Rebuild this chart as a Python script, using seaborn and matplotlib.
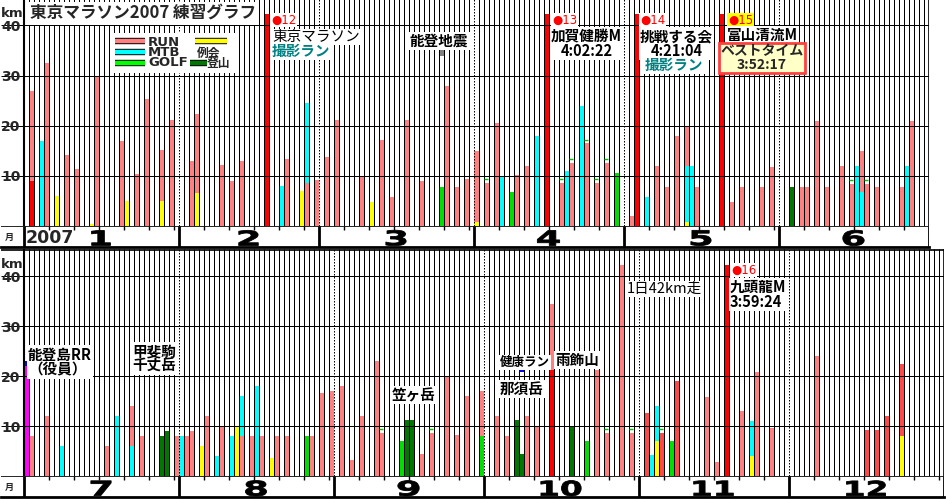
import numpy as np
import pandas as pd
import seaborn as sns
import matplotlib.pyplot as plt
from matplotlib.lines import Line2D
from matplotlib.textpath import TextPath
from matplotlib.patches import PathPatch, Rectangle
from matplotlib.font_manager import FontProperties
from matplotlib.transforms import Affine2D

sns.set_style("white")
plt.rcParams['font.family'] = ['Noto Sans CJK JP', 'DejaVu Sans']

# ---------------- data ----------------
# 1-6月: one entry per bar segment, stacked in the order listed
h1_date = ['1/2', '1/2', '1/4', '1/5', '1/7', '1/9', '1/11', '1/14', '1/15', '1/20', '1/21', '1/23', '1/25', '1/28', '1/28', '1/30',
           '2/3', '2/4', '2/4', '2/9', '2/11', '2/13', '2/18', '2/21', '2/22', '2/25', '2/26', '2/26', '2/28',
           '3/2', '3/4', '3/9', '3/11', '3/13', '3/15', '3/18', '3/21', '3/25', '3/26', '3/28', '3/30',
           '4/1', '4/1', '4/3', '4/5', '4/6', '4/8', '4/9', '4/11', '4/13', '4/15', '4/18', '4/19', '4/20', '4/22', '4/23', '4/25', '4/27', '4/29',
           '5/2', '5/3', '5/5', '5/7', '5/9', '5/11', '5/13', '5/13', '5/13', '5/14', '5/15', '5/20', '5/22', '5/24', '5/28', '5/30',
           '6/3', '6/5', '6/6', '6/8', '6/10', '6/13', '6/15', '6/16', '6/17', '6/17', '6/18', '6/20', '6/25', '6/26', '6/27']
h1_kind = ['race', 'run', 'mtb', 'run', 'reikai', 'run', 'run', 'reikai', 'run', 'run', 'reikai', 'run', 'run', 'reikai', 'run', 'run',
           'run', 'reikai', 'run', 'run', 'run', 'run', 'race', 'mtb', 'run', 'reikai', 'run', 'mtb', 'run',
           'run', 'run', 'run', 'reikai', 'run', 'run', 'run', 'run', 'golf', 'run', 'run', 'run',
           'reikai', 'run', 'run', 'run', 'mtb', 'golf', 'run', 'run', 'mtb', 'race', 'run', 'mtb', 'run', 'mtb', 'run', 'run', 'run', 'golf',
           'run', 'race', 'mtb', 'run', 'run', 'run', 'reikai', 'mtb', 'run', 'mtb', 'run', 'race', 'run', 'run', 'run', 'run',
           'climb', 'run', 'run', 'run', 'run', 'run', 'run', 'mtb', 'mtb', 'run', 'run', 'run', 'run', 'mtb', 'run']
h1_km = [9, 18, 17, 32.5, 6, 14.1, 11.3, 0.5, 30, 17, 5, 10.4, 25.4, 5, 10.2, 21.2,
         13, 6.7, 15.6, 12.1, 9, 13, 42.2, 8, 13.4, 7, 8.6, 15.9, 9.2,
         13.8, 21.1, 10, 4.9, 17.1, 5.9, 21.1, 9.1, 7.9, 28, 7.9, 9.5,
         0.9, 14.1, 8.7, 20.6, 9.9, 6.9, 10.2, 12, 18, 42.2, 8.7, 11, 12.6, 24, 16.5, 8.7, 12.6, 10.5,
         2, 42.2, 5.9, 12, 7.9, 18, 0.9, 11.1, 8, 12, 7.9, 42.2, 4.9, 7.9, 7.9, 11.7,
         7.9, 7.9, 7.9, 21, 7.9, 12, 8.5, 12, 6.9, 8.1, 8.5, 7.9, 7.9, 12, 21]

# 7-12月
h2_date = ['7/1', '7/2', '7/5', '7/8', '7/17', '7/19', '7/22', '7/22', '7/24', '7/28', '7/29', '7/31',
           '8/1', '8/2', '8/3', '8/5', '8/6', '8/8', '8/9', '8/11', '8/12', '8/13', '8/13', '8/15', '8/16', '8/17', '8/19', '8/20', '8/22', '8/26', '8/27', '8/29', '8/31',
           '9/2', '9/4', '9/6', '9/9', '9/10', '9/14', '9/15', '9/16', '9/18', '9/20', '9/23', '9/25', '9/27', '9/30', '9/30',
           '10/3', '10/5', '10/7', '10/8', '10/9', '10/11', '10/14', '10/14', '10/18', '10/21', '10/23', '10/25', '10/28', '10/30',
           '11/2', '11/3', '11/4', '11/4', '11/5', '11/7', '11/8', '11/14', '11/16', '11/18', '11/21', '11/23', '11/23', '11/24', '11/27',
           '12/6', '12/16', '12/18', '12/20', '12/23', '12/23']
h2_kind = ['staff', 'run', 'run', 'mtb', 'run', 'mtb', 'mtb', 'run', 'run', 'climb', 'climb', 'run',
           'mtb', 'run', 'run', 'reikai', 'run', 'mtb', 'run', 'mtb', 'reikai', 'run', 'mtb', 'run', 'mtb', 'run', 'reikai', 'run', 'run', 'golf', 'run', 'run', 'run',
           'run', 'run', 'run', 'run', 'run', 'golf', 'climb', 'climb', 'run', 'run', 'run', 'run', 'run', 'golf', 'run',
           'run', 'run', 'climb', 'climb', 'run', 'run', 'race', 'run', 'climb', 'golf', 'run', 'run', 'run', 'run',
           'hard', 'mtb', 'reikai', 'mtb', 'hard', 'golf', 'hard', 'run', 'run', 'race', 'run', 'reikai', 'mtb', 'run', 'run',
           'run', 'hard', 'hard', 'hard', 'reikai', 'hard']
h2_km = [22, 8, 12, 6, 6, 12, 6, 8.1, 8, 8, 9, 8,
         8, 8, 9, 6, 12, 4.1, 10, 8, 10, 8, 8.1, 8, 18.1, 8, 3.7, 8, 8, 8, 8, 16.6, 17.1,
         18.1, 3.3, 12.1, 23.1, 8.7, 7.1, 11.3, 11.3, 4.5, 8.7, 20, 8.3, 16.1, 8, 9.1,
         12.1, 8, 11.3, 4.5, 12.1, 10, 21.3, 13.2, 10, 7.1, 21.3, 8.7, 42.3, 8.7,
         12.7, 4.2, 7.1, 7, 8.7, 7.1, 19, 15.9, 2.9, 42.3, 13.1, 4, 7.1, 20.8, 9.6,
         24.1, 9.3, 9.3, 12.1, 8.1, 14.4]

# floating markers (not stacked)
mark_date = ['3/25', '7/1', '10/8']
mark_kind = ['quake', 'blue', 'blue']
mark_lo = [33.8, 22.0, 20.9]
mark_hi = [35.2, 23.0, 21.4]

# small green dashes over some bars
dash_date = ['4/3', '4/18', '4/20', '4/23', '4/25', '4/27', '6/15', '6/18',
             '9/10', '9/20', '10/25', '10/30', '11/5']

month_len = [31, 28, 31, 30, 31, 30, 31, 31, 30, 31, 30, 31]

colors = {'run': '#ff8080', 'hard': '#ff4848', 'race': '#ff0000', 'mtb': '#00ffff',
          'reikai': '#ffff00', 'golf': '#00e000', 'climb': '#007800', 'staff': '#ff00ff',
          'quake': '#808080', 'blue': '#0000ff'}

W, H = 948, 500
fig = plt.figure(figsize=(W / 100, H / 100), dpi=100)
fig.patch.set_facecolor('white')
num_font = FontProperties(family='DejaVu Sans', weight='bold')
LW = 0.72  # 1 px


def px_axes(x0, y0, x1, y1):
    # +0.5 px so that the day lines fall on pixel centres
    return fig.add_axes([(x0 + 0.5) / W, 1 - (y1 - 0.5) / H, (x1 - x0) / W, (y1 - y0) / H])


def day_index(dates, first_month):
    ts = pd.to_datetime(['2007/' + d for d in dates])
    off = sum(month_len[:first_month - 1])
    return np.array(ts.dayofyear) - off


def wide_number(ax, xc, yc, s, stretch=1.8, size=20.5):
    # month numbers are drawn in a wide, heavy face: stretch the glyphs sideways
    tp = TextPath((0, 0), s, size=size, prop=num_font)
    bb = tp.get_extents()
    X, Y = ax.transData.transform((xc, yc))
    tr = (Affine2D().translate(-bb.x0 - bb.width / 2, -bb.y0 - bb.height / 2)
          .scale(stretch, 1).translate(X, Y))
    ax.add_patch(PathPatch(tp, transform=tr, facecolor='black', edgecolor='black', lw=0.6))


def draw_half(dates, kinds, kms, months, box, strip, ymax, show_year):
    N = sum(month_len[m - 1] for m in months)
    ax = px_axes(*box)
    ax.set_xlim(0.5 - 23 / 5, N + 0.5)
    ax.set_ylim(0, ymax)
    ax.axis('off')

    df = pd.DataFrame({'x': day_index(dates, months[0]), 'kind': kinds, 'km': kms})
    df['bottom'] = df.groupby('x')['km'].cumsum() - df['km']
    ax.bar(df['x'], df['km'], bottom=df['bottom'], width=1.0,
           color=df['kind'].map(colors), linewidth=0, zorder=2)

    # markers
    mk = pd.DataFrame({'date': mark_date, 'kind': mark_kind, 'lo': mark_lo, 'hi': mark_hi})
    mk = mk[[int(d.split('/')[0]) in months for d in mk['date']]]
    if len(mk):
        ax.bar(day_index(list(mk['date']), months[0]), mk['hi'] - mk['lo'], bottom=mk['lo'],
               width=1.0, color=mk['kind'].map(colors), linewidth=0, zorder=2)

    # dashes
    dd = [d for d in dash_date if int(d.split('/')[0]) in months]
    if dd:
        tot = df.groupby('x')['km'].sum()
        xs = day_index(dd, months[0])
        ax.scatter(xs, tot.loc[xs].values + 0.7, marker='_', s=5, color='#00c000',
                   linewidths=1, zorder=5)

    # grid
    edges = np.cumsum([0] + [month_len[m - 1] for m in months]) + 0.5
    inner = [b for b in np.arange(1.5, N + 0.5) if b not in edges]
    ax.vlines(inner, 0, ymax, color='black', lw=LW, zorder=3)
    ax.vlines(edges[1:-1], 0, ymax, color='black', lw=LW, linestyles=(0, (1.5, 1.5)), zorder=3)
    ax.vlines([0.5], 0, ymax, color='black', lw=1.5, zorder=4)
    ax.vlines([N + 0.5], 0, ymax, color='black', lw=1.2, zorder=4)
    ax.hlines([10, 20, 30, 40], 0.5 - 23 / 5, N + 0.5, color='black', lw=LW, zorder=4)
    for v in [10, 20, 30, 40]:
        ax.text(0.5 - 22.5 / 5, v - 0.3, str(v), ha='left', va='center', fontsize=10,
                fontweight='bold', family='DejaVu Sans', zorder=6)
    ax.text(0.5 - 22.5 / 5, 42.4, 'km', ha='left', va='center', fontsize=9.5,
            fontweight='bold', family='DejaVu Sans', zorder=6)

    # month strip
    sx = px_axes(*strip)
    sx.set_xlim(ax.get_xlim())
    sx.set_ylim(0, 1)
    sx.set_xticks([])
    sx.set_yticks([])
    for s in ['left', 'right', 'top']:
        sx.spines[s].set_visible(False)
    sx.spines['bottom'].set_linewidth(2)
    sx.spines['bottom'].set_color('black')
    sx.axhline(1, color='black', lw=1.2)
    sx.vlines(edges, 0, 1, color='black', lw=2)
    for i, m in enumerate(months):
        s = edges[i] - 0.5
        for k in range(5, month_len[m - 1], 5):
            sx.vlines(s + k + 0.5, 0.82, 1, color='black', lw=1)
        wide_number(sx, s + month_len[m - 1] / 2 + 0.5, 0.42, str(m),
                    stretch=1.8 if m < 10 else 1.6)
    sx.text(0.5 - 19 / 5, 0.45, '月', ha='left', va='center', fontsize=6.5, fontweight='bold')
    if show_year:
        sx.text(0.9, 0.42, '2007', ha='left', va='center', fontsize=12.5,
                fontweight='bold', family='DejaVu Sans')
    return ax


ax1 = draw_half(h1_date, h1_kind, h1_km, [1, 2, 3, 4, 5, 6],
                (0, 0, 928, 226.7), (0, 226.7, 928, 247), 45.15, True)
ax2 = draw_half(h2_date, h2_kind, h2_km, [7, 8, 9, 10, 11, 12],
                (0, 249.5, 943, 476.7), (0, 476.7, 943, 497.5), 45.44, False)
ax2.hlines([45.3], 0.5 - 23 / 5, 184.5, color='black', lw=1.2, zorder=4)


# ---- legend, laid out by hand like the original ----
def fx(x):
    return x / W


def fy(y):
    return 1 - y / H


fig.add_artist(Rectangle((fx(113), fy(73)), 123 / W, 40 / H, transform=fig.transFigure,
                         facecolor='white', edgecolor='none', zorder=8))


def swatch(x0, x1, y, c):
    fig.add_artist(Line2D([fx(x0), fx(x1)], [fy(y), fy(y)], transform=fig.transFigure,
                          color='black', lw=4.6, solid_capstyle='butt', zorder=9))
    fig.add_artist(Line2D([fx(x0), fx(x1)], [fy(y), fy(y)], transform=fig.transFigure,
                          color=c, lw=3.2, solid_capstyle='butt', zorder=9))


for c, y in [(colors['run'], 41), (colors['mtb'], 52), ('#00ff00', 63)]:
    swatch(115, 145, y, c)
fig.text(fx(148), fy(52.5), 'RUN\nMTB\nGOLF', ha='left', va='center', zorder=9,
         family='DejaVu Sans', fontweight='bold', fontsize=9.5, linespacing=0.72)
swatch(195, 227, 41, colors['reikai'])
fig.text(fx(197), fy(53), '例会', ha='left', va='center', zorder=9, fontweight='bold', fontsize=8.5)
swatch(190, 207, 63, colors['climb'])
fig.text(fx(207), fy(64), '登山', ha='left', va='center', zorder=9, fontweight='bold', fontsize=8.5)


# texts
def note(x, y, s, color='black', size=10.5, bg='white', weight='bold', **kw):
    fig.text(x / W, 1 - y / H, s, color=color, fontsize=size, ha='left', va='center',
             fontweight=weight, linespacing=0.9,
             bbox=dict(boxstyle='square,pad=0.08', fc=bg, ec='none'), zorder=10, **kw)


fig.text(30 / W, 1 - 13 / H, '東京マラソン2007 練習グラフ', fontsize=12, fontweight='bold',
         ha='left', va='center', bbox=dict(boxstyle='square,pad=0.15', fc='white', ec='none'),
         zorder=10)

teal = '#008080'
dot = dict(family=['DejaVu Sans'])
note(271, 20, '●12', color='red', size=8.5, weight='normal', **dot)
note(272, 37, '東京マラソン', weight='normal')
note(272, 51, '撮影ラン', color=teal)
note(410, 41, '能登地震')
note(552, 20, '●13', color='red', size=8.5, weight='normal', **dot)
note(551, 43.5, '加賀健勝M\n4:02:22', multialignment='center')
note(640, 20, '●14', color='red', size=8.5, weight='normal', **dot)
note(640, 43.5, '挑戦する会\n4:21:04', multialignment='center')
note(645, 65, '撮影ラン', color=teal)
note(728, 20, '●15', color='red', size=8.5, bg='#ffff00', weight='normal', **dot)
note(727, 35, '富山清流M')
fig.text(762 / W, 1 - 58 / H, 'ベストタイム\n3:52:17', fontsize=10, ha='center', va='center',
         linespacing=0.95, zorder=10, fontweight='bold',
         bbox=dict(boxstyle='square,pad=0.12', fc='#ffffc8', ec='#ff4040', lw=2))

note(28, 362, '能登島RR\n（役員）')
note(132, 358.5, '甲斐駒\n千丈岳')
note(392, 395, '笠ヶ岳')
note(500, 362, '健康ラン', size=9)
note(500, 389, '那須岳')
note(555, 360, '雨飾山')
note(627, 289, '1日42km走', weight='normal')
note(731, 270, '●16', color='red', size=8.5, weight='normal', **dot)
note(730, 294.5, '九頭龍M\n3:59:24')

fig.savefig('out.png', dpi=100, facecolor='white')
